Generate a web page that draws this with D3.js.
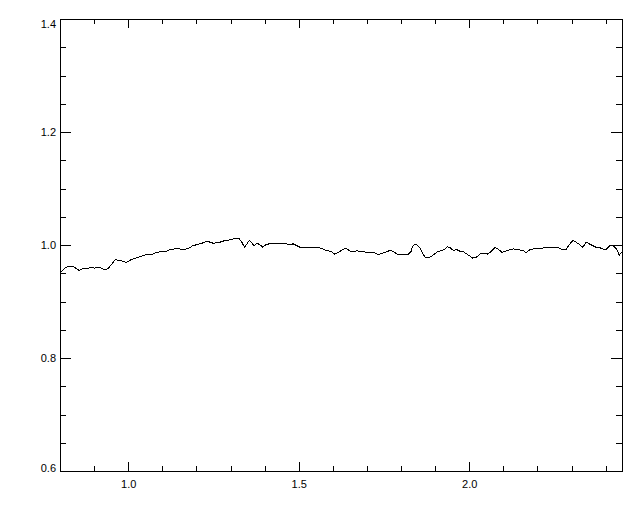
<!DOCTYPE html>
<html>
<head>
<meta charset="utf-8">
<script src="https://cdn.jsdelivr.net/npm/d3@7"></script>
<style>
  html, body { margin: 0; padding: 0; background: #fff; }
  svg { display: block; }
  text { font-family: "Liberation Sans", Arial, Helvetica, sans-serif; font-size: 11px; fill: #000; }
</style>
</head>
<body>
<svg id="chart" width="640" height="512"></svg>
<script>
const xValues = [0.802,0.814,0.823,0.833,0.840,0.848,0.856,0.865,0.872,0.882,0.892,0.902,0.911,0.921,0.931,0.941,0.950,0.962,0.972,0.985,0.995,1.005,1.019,1.034,1.046,1.058,1.073,1.082,1.097,1.112,1.122,1.136,1.151,1.166,1.180,1.190,1.205,1.220,1.230,1.240,1.250,1.260,1.269,1.284,1.299,1.308,1.318,1.326,1.333,1.341,1.348,1.355,1.362,1.369,1.377,1.385,1.395,1.404,1.414,1.426,1.437,1.450,1.463,1.475,1.484,1.494,1.504,1.519,1.533,1.548,1.561,1.572,1.582,1.594,1.605,1.616,1.633,1.641,1.651,1.660,1.670,1.680,1.692,1.704,1.714,1.724,1.734,1.744,1.753,1.766,1.776,1.783,1.792,1.807,1.822,1.829,1.834,1.844,1.854,1.861,1.871,1.880,1.890,1.900,1.910,1.920,1.929,1.936,1.944,1.954,1.963,1.973,1.983,1.993,2.003,2.010,2.020,2.032,2.042,2.053,2.063,2.076,2.086,2.096,2.105,2.120,2.130,2.140,2.149,2.159,2.167,2.176,2.188,2.203,2.218,2.232,2.247,2.259,2.271,2.284,2.294,2.304,2.313,2.323,2.333,2.343,2.352,2.362,2.372,2.384,2.396,2.403,2.413,2.423,2.433,2.440,2.447];
const yValues = [0.952,0.959,0.962,0.961,0.962,0.958,0.955,0.958,0.959,0.959,0.960,0.959,0.961,0.959,0.956,0.958,0.965,0.974,0.973,0.971,0.969,0.973,0.976,0.979,0.982,0.983,0.984,0.987,0.988,0.989,0.992,0.993,0.993,0.992,0.995,0.999,1.001,1.004,1.007,1.005,1.003,1.004,1.005,1.008,1.009,1.011,1.012,1.011,1.005,0.996,1.002,1.008,1.004,0.999,1.003,1.001,0.996,1.001,1.002,1.002,1.003,1.002,1.002,1.001,1.002,0.999,0.996,0.996,0.996,0.995,0.995,0.993,0.990,0.989,0.984,0.987,0.993,0.993,0.989,0.988,0.990,0.988,0.988,0.986,0.987,0.986,0.983,0.985,0.987,0.990,0.989,0.986,0.983,0.983,0.984,0.988,0.998,1.002,0.996,0.988,0.978,0.977,0.980,0.985,0.989,0.990,0.993,0.997,0.995,0.990,0.992,0.989,0.988,0.984,0.980,0.977,0.978,0.984,0.985,0.984,0.988,0.996,0.992,0.987,0.989,0.992,0.993,0.992,0.991,0.990,0.986,0.991,0.993,0.993,0.995,0.995,0.996,0.996,0.992,0.992,1.001,1.008,1.005,1.001,0.996,1.005,1.002,0.999,0.996,0.995,0.992,0.993,0.999,0.998,0.992,0.982,0.987];

const xDomain = [0.8, 2.448];
const yDomain = [0.6, 1.4];
const xMajorTicks = [1.0, 1.5, 2.0];
const xMinorTicks = [0.9, 1.1, 1.2, 1.3, 1.4, 1.6, 1.7, 1.8, 1.9, 2.1, 2.2, 2.3, 2.4];
const yMajorTicks = [0.6, 0.8, 1.0, 1.2, 1.4];
const yMinorTicks = [0.65, 0.7, 0.75, 0.85, 0.9, 0.95, 1.05, 1.1, 1.15, 1.25, 1.3, 1.35];

const margin = {left: 60, top: 19, right: 18, bottom: 41};
const W = 640, H = 512;
const iw = W - margin.left - margin.right;
const ih = H - margin.top - margin.bottom;

const svg = d3.select("#chart");
const g = svg.append("g").attr("transform", `translate(${margin.left},${margin.top})`);

const x = d3.scaleLinear().domain(xDomain).range([0, iw]);
const y = d3.scaleLinear().domain(yDomain).range([ih, 0]);

function styleAxis(sel) {
  sel.select(".domain").remove();
  sel.selectAll("line").attr("stroke", "#000").attr("stroke-width", 1).attr("shape-rendering", "crispEdges");
}

// bottom axis: major with labels
g.append("g").attr("transform", `translate(0,${ih})`)
  .call(d3.axisBottom(x).tickValues(xMajorTicks).tickSize(-9).tickPadding(9).tickFormat(d3.format(".1f")))
  .call(styleAxis);
g.append("g").attr("transform", `translate(0,${ih})`)
  .call(d3.axisBottom(x).tickValues(xMinorTicks).tickSize(-5).tickFormat(""))
  .call(styleAxis);
// top axis
g.append("g")
  .call(d3.axisTop(x).tickValues(xMajorTicks).tickSize(-9).tickFormat(""))
  .call(styleAxis);
g.append("g")
  .call(d3.axisTop(x).tickValues(xMinorTicks).tickSize(-5).tickFormat(""))
  .call(styleAxis);
// left axis
const yl = g.append("g")
  .call(d3.axisLeft(y).tickValues(yMajorTicks).tickSize(-11).tickPadding(3).tickFormat(d3.format(".1f")))
  .call(styleAxis);
yl.selectAll(".tick text")
  .attr("x", -4)
  .attr("dy", d => d === yDomain[1] ? "0.75em" : (d === yDomain[0] ? "0em" : "0.35em"));
g.append("g")
  .call(d3.axisLeft(y).tickValues(yMinorTicks).tickSize(-6).tickFormat(""))
  .call(styleAxis);
// right axis
g.append("g").attr("transform", `translate(${iw},0)`)
  .call(d3.axisRight(y).tickValues(yMajorTicks).tickSize(-11).tickFormat(""))
  .call(styleAxis);
g.append("g").attr("transform", `translate(${iw},0)`)
  .call(d3.axisRight(y).tickValues(yMinorTicks).tickSize(-6).tickFormat(""))
  .call(styleAxis);

g.selectAll(".tick text").style("font-family", '"Liberation Sans", Arial, sans-serif').style("font-size", "11px").attr("fill", "#000");

// frame
g.append("rect").attr("x", 0).attr("y", 0).attr("width", iw).attr("height", ih)
  .attr("fill", "none").attr("stroke", "#000").attr("stroke-width", 1).attr("shape-rendering", "crispEdges");

// data line
const data = xValues.map((v, i) => [v, yValues[i]]);
g.append("path").datum(data)
  .attr("fill", "none").attr("stroke", "#000").attr("stroke-width", 1)
  .attr("shape-rendering", "crispEdges")
  .attr("d", d3.line().x(d => x(d[0])).y(d => y(d[1])));
</script>
</body>
</html>
